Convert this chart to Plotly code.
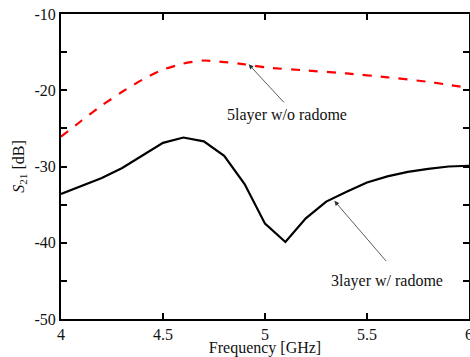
import plotly.graph_objects as go

freq_black = [4.0, 4.2, 4.3, 4.4, 4.5, 4.6, 4.7, 4.8, 4.9, 5.0, 5.1, 5.2, 5.3, 5.4, 5.5, 5.6, 5.7, 5.8, 5.9, 6.0]
s21_3layer = [-33.6, -31.5, -30.2, -28.5, -26.9, -26.2, -26.7, -28.6, -32.3, -37.5, -39.9, -36.8, -34.6, -33.3, -32.1, -31.3, -30.7, -30.3, -30.0, -29.9]

freq_red = [4.0, 4.1, 4.2, 4.3, 4.4, 4.5, 4.6, 4.7, 4.8, 4.9, 5.0, 5.2, 5.4, 5.6, 5.8, 6.0]
s21_5layer = [-26.1, -24.0, -22.0, -20.2, -18.6, -17.3, -16.5, -16.1, -16.3, -16.6, -17.0, -17.4, -17.8, -18.3, -18.9, -19.7]

x_ticks = [4, 4.5, 5, 5.5, 6]
y_ticks = [-50, -40, -30, -20, -10]

FONT = "Liberation Serif"

fig = go.Figure()
fig.add_trace(go.Scatter(x=freq_red, y=s21_5layer, mode="lines",
                         line=dict(color="#ff0000", width=2.2, dash="dash", shape="spline", smoothing=0.6),
                         showlegend=False))
fig.add_trace(go.Scatter(x=freq_black, y=s21_3layer, mode="lines",
                         line=dict(color="black", width=2.2),
                         showlegend=False))

fig.add_annotation(x=4.92, y=-16.6, ax=5.1, ay=-21.8, xref="x", yref="y", axref="x", ayref="y",
                   text="", showarrow=True, arrowhead=2, arrowsize=1.2, arrowwidth=0.8, arrowcolor="#333")
fig.add_annotation(x=5.11, y=-23.3, xref="x", yref="y", text="5layer w/o radome", showarrow=False,
                   font=dict(family=FONT, size=16, color="#111"))
fig.add_annotation(x=5.34, y=-34.5, ax=5.6, ay=-42.6, xref="x", yref="y", axref="x", ayref="y",
                   text="", showarrow=True, arrowhead=2, arrowsize=1.2, arrowwidth=0.8, arrowcolor="#333")
fig.add_annotation(x=5.6, y=-45.0, xref="x", yref="y", text="3layer w/ radome", showarrow=False,
                   font=dict(family=FONT, size=16, color="#111"))

fig.update_xaxes(range=[4, 6], tickvals=x_ticks, ticktext=[str(v) for v in x_ticks],
                 ticks="inside", ticklen=6, tickwidth=1.5, tickcolor="black",
                 showline=True, linecolor="black", linewidth=2, mirror="ticks",
                 showgrid=False, zeroline=False, ticklabeloverflow="allow", automargin=False,
                 title=dict(text="Frequency [GHz]", font=dict(family=FONT, size=16, color="#111"), standoff=4),
                 tickfont=dict(family=FONT, size=16, color="#111"))
fig.update_yaxes(range=[-50, -10], tickvals=y_ticks, ticktext=[str(v) for v in y_ticks],
                 ticks="inside", ticklen=6, tickwidth=1.5, tickcolor="black",
                 minor=dict(tickvals=[-45, -35, -25, -15], ticks="inside", ticklen=6, tickwidth=1.5, tickcolor="black"),
                 showline=True, linecolor="black", linewidth=2, mirror="ticks",
                 showgrid=False, zeroline=False, automargin=False,
                 title=dict(text="<i>S</i><sub>21</sub> [dB]", font=dict(family=FONT, size=16, color="#111"), standoff=6),
                 tickfont=dict(family=FONT, size=16, color="#111"))

fig.update_layout(width=470, height=357, margin=dict(l=61, r=1, t=14, b=38),
                  plot_bgcolor="white", paper_bgcolor="white")

fig.write_html("out.html")
